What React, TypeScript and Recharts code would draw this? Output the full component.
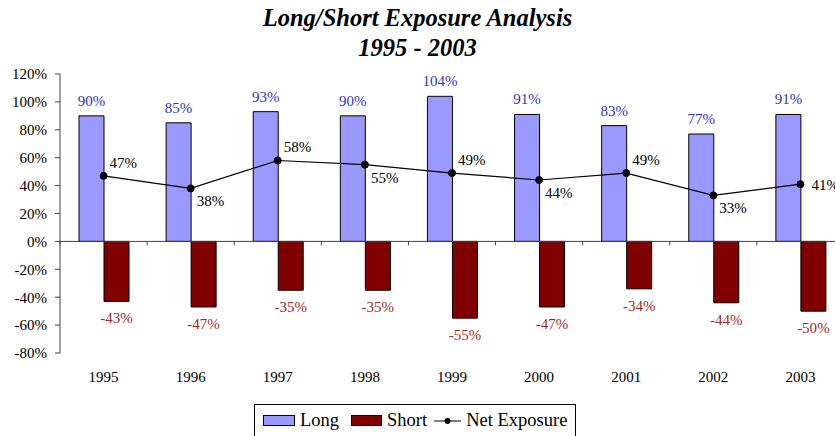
import React from "react"
import {
  Bar,
  ComposedChart,
  LabelList,
  Legend,
  Line,
  ReferenceLine,
  XAxis,
  YAxis,
} from "recharts"

const years = ["1995", "1996", "1997", "1998", "1999", "2000", "2001", "2002", "2003"]
const longPct = [90, 85, 93, 90, 104, 91, 83, 77, 91]
const shortPct = [-43, -47, -35, -35, -55, -47, -34, -44, -50]
const netPct = [47, 38, 58, 55, 49, 44, 49, 33, 41]
// where each net exposure label sits relative to its point
const netLabelSide = ["above", "below", "above", "below", "above", "below", "above", "below", "right"]
const yTicks = [-80, -60, -40, -20, 0, 20, 40, 60, 80, 100, 120]

const FONT = "'Liberation Serif', 'Times New Roman', serif"
const LONG_COLOR = "#9999FF"
const SHORT_COLOR = "#800000"

const data = years.map((year, i) => ({
  year,
  long: longPct[i],
  short: shortPct[i],
  net: netPct[i],
}))

const LongLabel = (props: any) => {
  const { x, y, width, height, value } = props
  const top = Math.min(y, y + height)
  return (
    <text x={x + width / 2} y={top - 10} textAnchor="middle" fontSize={15} fontFamily={FONT} fill="#3333BB">
      {value}%
    </text>
  )
}

const ShortLabel = (props: any) => {
  const { x, y, width, height, value } = props
  const bottom = Math.max(y, y + height)
  return (
    <text x={x + width / 2} y={bottom + 22} textAnchor="middle" fontSize={15} fontFamily={FONT} fill="#A02828">
      {value}%
    </text>
  )
}

const NetLabel = (props: any) => {
  const { x, y, value, index } = props
  const side = netLabelSide[index]
  const dx = side === "right" ? 11 : 6
  const dy = side === "above" ? -8 : side === "below" ? 18 : 6
  return (
    <text x={x + dx} y={y + dy} textAnchor="start" fontSize={15} fontFamily={FONT} fill="#000">
      {value}%
    </text>
  )
}

// zero line with small category separators hanging below it
const ZeroLine = (props: any) => {
  const { x1, y1, x2 } = props
  const step = (x2 - x1) / years.length
  return (
    <g>
      <line x1={x1} y1={y1} x2={x2} y2={y1} stroke="#404040" strokeWidth={1} />
      {Array.from({ length: years.length + 1 }, (_, i) => (
        <line key={i} x1={x1 + i * step} y1={y1} x2={x1 + i * step} y2={y1 + 4} stroke="#404040" strokeWidth={1} />
      ))}
    </g>
  )
}

const LegendBox = () => (
  <div
    style={{
      border: "1px solid #000",
      height: 33,
      boxSizing: "border-box",
      display: "flex",
      alignItems: "center",
      paddingLeft: 8,
      fontFamily: FONT,
      fontSize: 18.5,
      color: "#000",
      background: "#fff",
    }}
  >
    <span style={{ width: 30, height: 9, background: LONG_COLOR, border: "1px solid #000", marginRight: 5 }} />
    <span style={{ marginRight: 12 }}>Long</span>
    <span style={{ width: 29, height: 9, background: SHORT_COLOR, border: "1px solid #000", marginRight: 5 }} />
    <span style={{ marginRight: 7 }}>Short</span>
    <svg width={27} height={10} style={{ marginRight: 5 }}>
      <line x1={0} y1={5} x2={27} y2={5} stroke="#000" strokeWidth={1} />
      <circle cx={13.5} cy={5} r={3} fill="#000" />
    </svg>
    <span>Net Exposure</span>
  </div>
)

export default function App() {
  return (
    <div
      style={{
        position: "absolute",
        left: 0,
        top: 0,
        width: 835,
        height: 436,
        overflow: "hidden",
        background: "#fff",
        fontFamily: FONT,
      }}
    >
      <div
        style={{
          position: "absolute",
          left: 0,
          width: 835,
          top: 3,
          textAlign: "center",
          fontFamily: FONT,
          fontWeight: "bold",
          fontStyle: "italic",
          fontSize: 24.5,
          lineHeight: "30px",
        }}
      >
        <div>Long/Short Exposure Analysis</div>
        <div>1995 - 2003</div>
      </div>
      <ComposedChart
        width={850}
        height={436}
        data={data}
        margin={{ top: 74, right: 6, bottom: 53, left: 0 }}
        barSize={25}
        barGap={0}
        style={{ position: "absolute", left: 0, top: 0 }}
      >
        <XAxis
          dataKey="year"
          axisLine={false}
          tickLine={false}
          tickSize={0}
          tickMargin={18}
          height={30}
          interval={0}
          tick={{ fontSize: 15, fontFamily: FONT, fill: "#000" }}
        />
        <YAxis
          domain={[-80, 120]}
          ticks={yTicks}
          width={60}
          tickSize={5}
          tickMargin={8}
          interval={0}
          allowDataOverflow
          tickFormatter={(v: number) => `${v}%`}
          axisLine={{ stroke: "#404040" }}
          tickLine={{ stroke: "#404040" }}
          tick={{ fontSize: 15, fontFamily: FONT, fill: "#000" }}
        />
        <Bar dataKey="long" name="Long" fill={LONG_COLOR} stroke="#000" strokeWidth={1} isAnimationActive={false}>
          <LabelList dataKey="long" content={LongLabel} />
        </Bar>
        <Bar dataKey="short" name="Short" fill={SHORT_COLOR} stroke="#000" strokeWidth={1} isAnimationActive={false}>
          <LabelList dataKey="short" content={ShortLabel} />
        </Bar>
        <ReferenceLine y={0} shape={ZeroLine} ifOverflow="visible" />
        <Line
          type="linear"
          dataKey="net"
          name="Net Exposure"
          stroke="#000"
          strokeWidth={1.2}
          dot={{ r: 3.5, fill: "#000", stroke: "#000", strokeWidth: 1 }}
          activeDot={false}
          isAnimationActive={false}
        >
          <LabelList dataKey="net" content={NetLabel} />
        </Line>
        <Legend
          layout="horizontal"
          verticalAlign="middle"
          align="center"
          wrapperStyle={{ top: 404, left: 254, width: 322, height: 33 }}
          content={LegendBox}
        />
      </ComposedChart>
    </div>
  )
}
